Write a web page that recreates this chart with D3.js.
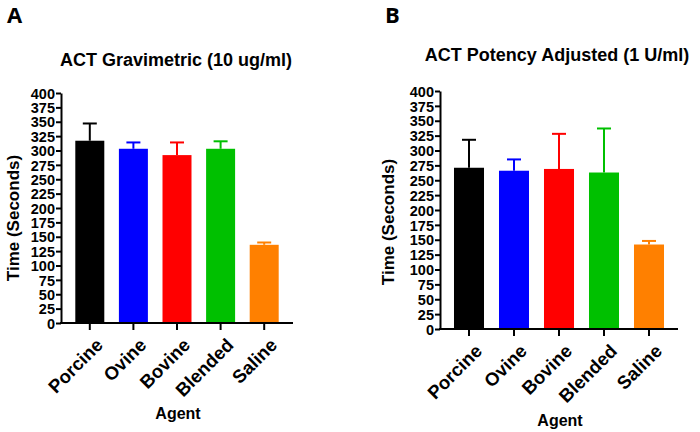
<!DOCTYPE html>
<html>
<head>
<meta charset="utf-8">
<script src="https://cdn.jsdelivr.net/npm/d3@7"></script>
<style>
  body { margin: 0; background: #fff; }
  svg { display: block; font-family: "Liberation Sans", Arial, sans-serif; font-weight: bold; }
</style>
</head>
<body>
<svg id="chart" width="700" height="432"></svg>
<script>
// ---- data ----
const categories = ["Porcine", "Ovine", "Bovine", "Blended", "Saline"];
const colors = ["#000000", "#0000ff", "#ff0000", "#00c000", "#ff8000"];
const gravimetricMean = [317, 303, 292, 303, 136];
const gravimetricSD = [30, 11, 22, 13, 4];
const potencyMean = [271, 266, 269, 263, 142];
const potencySD = [47, 19, 59, 74, 6];
const yTicks = d3.range(0, 401, 25);

const svg = d3.select("#chart");

function panel(cfg) {
  const g = svg.append("g");
  const y = d3.scaleLinear().domain([0, 400]).range([cfg.y0, cfg.y1]);
  const x = d3.scaleBand().domain(categories).range([cfg.bx0, cfg.bx1]).paddingInner(cfg.pad).paddingOuter(cfg.pad / 2);

  // bars
  g.selectAll("rect.bar").data(categories).enter().append("rect")
    .attr("x", d => x(d))
    .attr("width", x.bandwidth())
    .attr("y", (d, i) => y(cfg.mean[i]))
    .attr("height", (d, i) => y(0) - y(cfg.mean[i]))
    .attr("fill", (d, i) => colors[i]);

  // error bars (upper only)
  const cw = 7;
  const eb = g.selectAll("g.err").data(categories).enter().append("g")
    .attr("stroke", (d, i) => colors[i]).attr("stroke-width", 2);
  eb.append("line")
    .attr("x1", d => x(d) + x.bandwidth() / 2).attr("x2", d => x(d) + x.bandwidth() / 2)
    .attr("y1", (d, i) => y(cfg.mean[i])).attr("y2", (d, i) => y(cfg.mean[i] + cfg.sd[i]));
  eb.append("line")
    .attr("x1", d => x(d) + x.bandwidth() / 2 - cw).attr("x2", d => x(d) + x.bandwidth() / 2 + cw)
    .attr("y1", (d, i) => y(cfg.mean[i] + cfg.sd[i])).attr("y2", (d, i) => y(cfg.mean[i] + cfg.sd[i]));

  // y axis
  const ya = g.append("g").attr("transform", `translate(${cfg.ax},0)`)
    .call(d3.axisLeft(y).tickValues(yTicks).tickSize(5).tickSizeOuter(0).tickPadding(1));
  ya.select(".domain").attr("stroke-width", 2);
  ya.selectAll(".tick line").attr("stroke-width", 2);
  ya.selectAll(".tick text").attr("font-size", 14.5).attr("font-family", "Liberation Sans, Arial")
    .attr("font-weight", "bold").attr("fill", "#000").attr("dy", "0.36em");

  // x axis
  const xa = g.append("g").attr("transform", `translate(0,${cfg.y0})`);
  xa.append("line").attr("x1", cfg.ax - 1).attr("x2", cfg.axEnd).attr("stroke", "#000").attr("stroke-width", 2);
  const xt = xa.selectAll("g.xt").data(categories).enter().append("g")
    .attr("transform", d => `translate(${x(d) + x.bandwidth() / 2},0)`);
  xt.append("line").attr("y1", 0).attr("y2", 7).attr("stroke", "#000").attr("stroke-width", 2);
  xt.append("text")
    .attr("transform", "translate(5,14) rotate(-45)")
    .attr("text-anchor", "end")
    .attr("dy", "0.7em")
    .attr("font-size", 18.5)
    .text(d => d);

  // titles
  g.append("text").attr("x", cfg.tx).attr("y", cfg.ty).attr("text-anchor", "middle").attr("font-size", 18).text(cfg.title);
  g.append("text").attr("x", cfg.agx).attr("y", cfg.agy).attr("text-anchor", "middle").attr("font-size", 16).text("Agent");
  g.append("text").attr("transform", `translate(${cfg.ytx},${cfg.yty}) rotate(-90)`)
    .attr("text-anchor", "middle").attr("font-size", 17).text("Time (Seconds)");
  g.append("text").attr("x", cfg.lx).attr("y", cfg.ly).attr("font-size", 22).attr("font-family", "Open Sans, Liberation Sans").attr("font-weight", "bold").text(cfg.letter);
}

panel({
  letter: "A", lx: 7, ly: 23,
  title: "ACT Gravimetric (10 ug/ml)", tx: 176, ty: 66,
  mean: gravimetricMean, sd: gravimetricSD,
  ax: 61, axEnd: 293, y0: 323, y1: 93,
  bx0: 68, bx1: 286, pad: 0.335,
  agx: 178, agy: 419, ytx: 19, yty: 218
});
panel({
  letter: "B", lx: 385, ly: 23,
  title: "ACT Potency Adjusted (1 U/ml)", tx: 557, ty: 61,
  mean: potencyMean, sd: potencySD,
  ax: 440, axEnd: 678, y0: 329, y1: 91,
  bx0: 446.5, bx1: 671.5, pad: 0.333,
  agx: 560, agy: 426, ytx: 394, yty: 222
});
</script>
</body>
</html>
